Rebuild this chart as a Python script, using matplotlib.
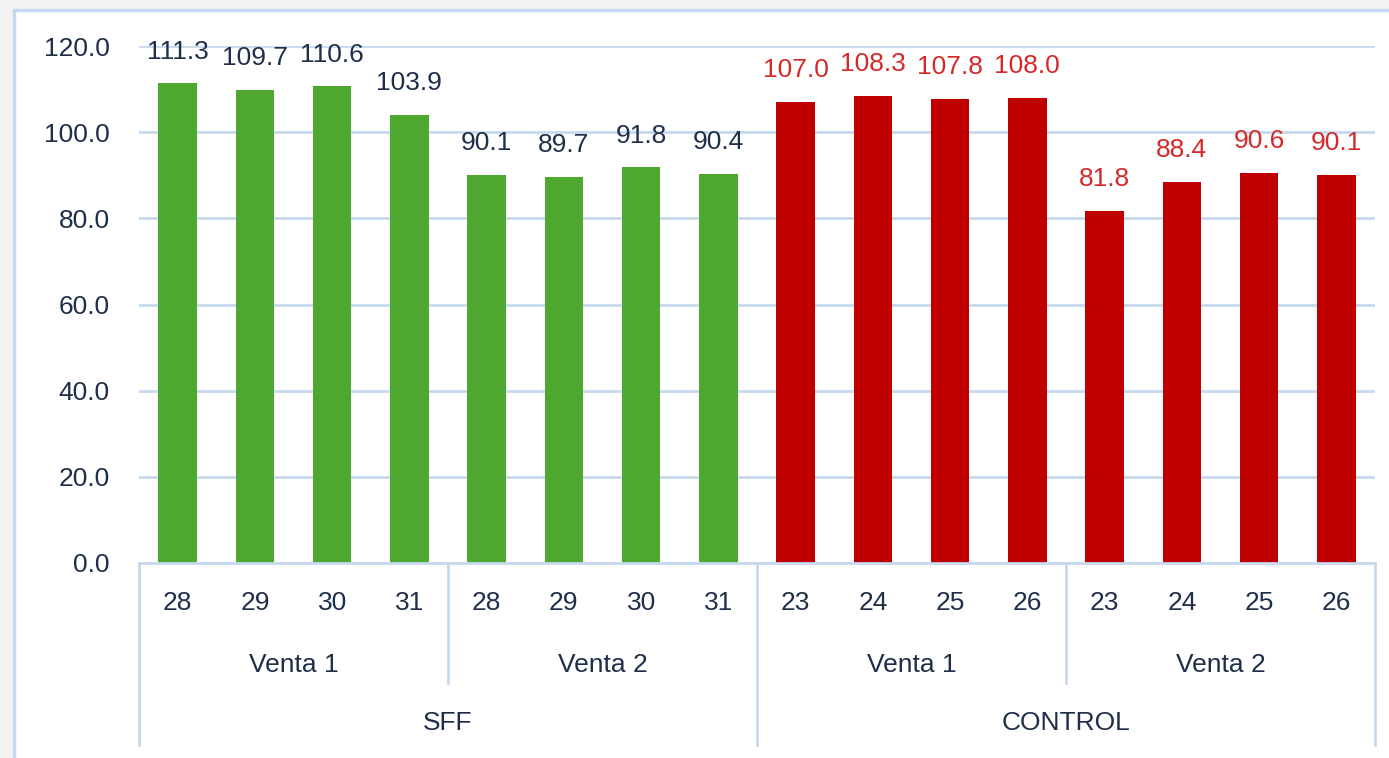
import matplotlib.pyplot as plt
from matplotlib.patches import Rectangle
import matplotlib.transforms as mtransforms

plt.rcParams['font.family'] = ['Liberation Sans', 'DejaVu Sans']

# data
days = ['28', '29', '30', '31', '28', '29', '30', '31',
        '23', '24', '25', '26', '23', '24', '25', '26']
ventas = ['Venta 1', 'Venta 2', 'Venta 1', 'Venta 2']
groups = ['SFF', 'CONTROL']
sff_values = [111.3, 109.7, 110.6, 103.9, 90.1, 89.7, 91.8, 90.4]
control_values = [107.0, 108.3, 107.8, 108.0, 81.8, 88.4, 90.6, 90.1]

text_color = '#1f2f4a'
grid_color = '#c6d9ef'
green = '#4ea72e'
red = '#c00000'
label_red = '#d42a2a'
fs = 19

fig = plt.figure(figsize=(13.89, 7.58), dpi=100)
fig.patch.set_facecolor('#f3f3f3')

# chart area frame (goes off the right and bottom edge like in the screenshot)
frame = Rectangle((14 / 1389, -0.05), 1.2, 1 - 10 / 758 + 0.05,
                  transform=fig.transFigure, facecolor='white',
                  edgecolor=grid_color, linewidth=2.5, zorder=-10)
fig.patches.append(frame)

ax = fig.add_axes([139 / 1389, 1 - 563 / 758, (1375 - 139) / 1389, (563 - 46) / 758])
ax.set_facecolor('none')
ax.set_zorder(5)

values = sff_values + control_values
colors = [green] * len(sff_values) + [red] * len(control_values)
xs = list(range(len(values)))
ax.bar(xs, values, width=0.5, color=colors, zorder=3)

for i, v in enumerate(values):
    c = text_color if i < len(sff_values) else label_red
    ax.annotate(f'{v:.1f}', (i, v), xytext=(0, 23), textcoords='offset points',
                ha='center', va='center', fontsize=fs, color=c)

ax.set_xlim(-0.5, len(values) - 0.5)
ax.set_ylim(0, 120)
ax.set_yticks(range(0, 121, 20))
ax.set_yticklabels([f'{t:.1f}' for t in range(0, 121, 20)], fontsize=fs, color=text_color)
ax.tick_params(axis='y', length=0, pad=21)
ax.set_xticks([])
ax.yaxis.grid(True, color=grid_color, linewidth=2)
ax.set_axisbelow(True)
for s in ['top', 'right', 'left']:
    ax.spines[s].set_visible(False)
ax.spines['bottom'].set_color(grid_color)
ax.spines['bottom'].set_linewidth(2)
ax.spines['bottom'].set_zorder(4)

trans = mtransforms.blended_transform_factory(ax.transData, ax.transAxes)

# multi-level category labels
for i, d in enumerate(days):
    ax.text(i, -0.0774, d, transform=trans, ha='center', va='center',
            fontsize=fs, color=text_color)
for j, vname in enumerate(ventas):
    ax.text(j * 4 + 1.5, -0.197, vname, transform=trans, ha='center', va='center',
            fontsize=fs, color=text_color)
for k, g in enumerate(groups):
    ax.text(k * 8 + 3.5, -0.309, g, transform=trans, ha='center', va='center',
            fontsize=fs, color=text_color)

# separator lines
for xb in [-0.5, 7.5, 15.5]:
    ax.plot([xb, xb], [0, -0.352], transform=trans, color=grid_color,
            linewidth=2, clip_on=False)
for xb in [3.5, 11.5]:
    ax.plot([xb, xb], [0, -0.232], transform=trans, color=grid_color,
            linewidth=2, clip_on=False)

fig.savefig('out.png', dpi=100, facecolor=fig.get_facecolor())
